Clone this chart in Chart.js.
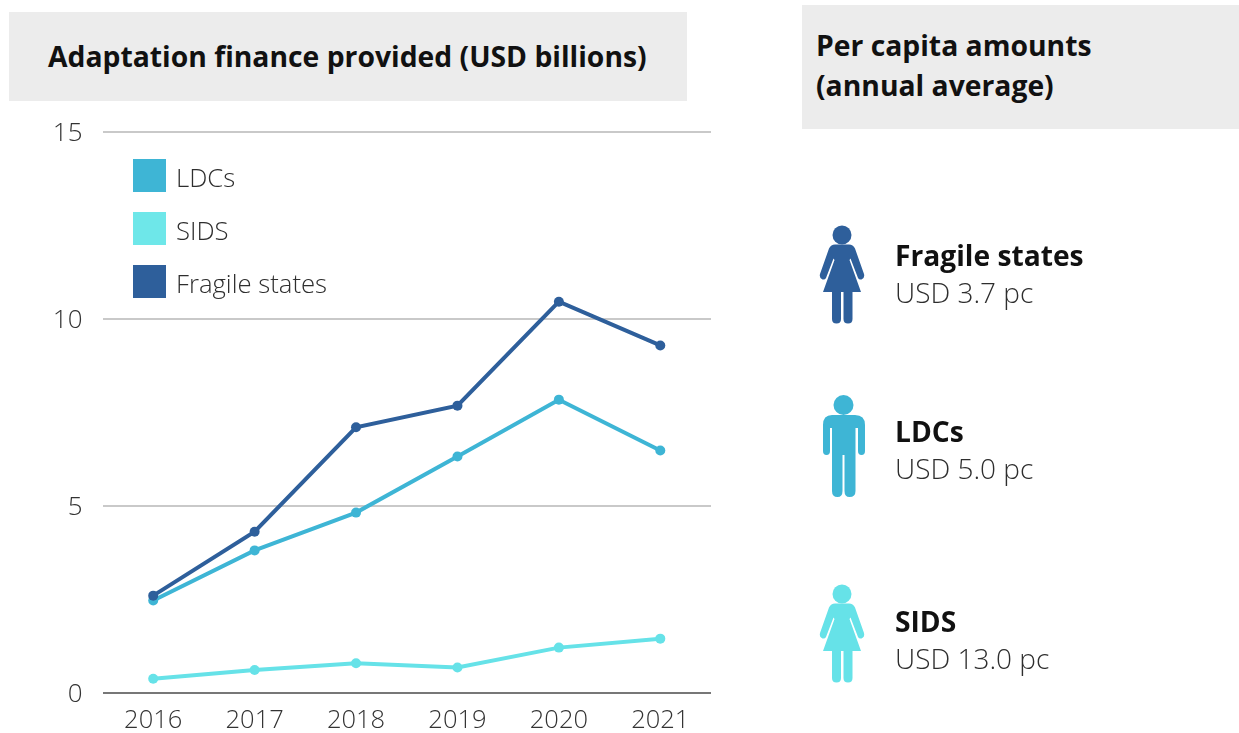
<!DOCTYPE html>
<html>
<head>
<meta charset="utf-8">
<title>Adaptation finance</title>
<script src="https://cdn.jsdelivr.net/npm/chart.js@4"></script>
<style>
    html, body { margin: 0; padding: 0; background: #fff; }
    body { position: relative; width: 1239px; height: 733px; overflow: hidden; font-family: "Open Sans", sans-serif; color: #2e2e2e; }
    .header { position: absolute; background: #ececec; color: #111; font-weight: 700; font-size: 28.3px; line-height: 40px; }
    #headerLeft { left: 9px; top: 12px; width: 639px; height: 89px; padding-left: 39px; line-height: 89px; white-space: nowrap; }
    #headerRight { left: 802px; top: 5px; width: 423px; height: 124px; padding-left: 14px; padding-top: 0; }
    #headerRight div { position: relative; top: 20px; }
    #chartCanvas { position: absolute; left: 0; top: 0; }
    .legendItem { position: absolute; left: 133px; height: 33px; line-height: 37px; font-size: 25.7px; font-weight: 300; padding-left: 43px; white-space: nowrap; }
    .legendItem span { position: absolute; left: 0; top: 0; width: 33px; height: 33px; }
    .groupName { position: absolute; left: 895px; font-size: 28.2px; font-weight: 700; color: #111; white-space: nowrap; line-height: 36px; }
    .groupAmount { position: absolute; left: 895px; font-size: 28px; font-weight: 300; white-space: nowrap; line-height: 36px; }
    #figures { position: absolute; left: 0; top: 0; }
</style>
</head>
<body>
<div class="header" id="headerLeft">Adaptation finance provided (USD billions)</div>
<div class="header" id="headerRight"><div>Per capita amounts</div><div>(annual average)</div></div>
<canvas id="chartCanvas" width="730" height="733"></canvas>
<div id="legend"></div>
<svg id="figures" width="1239" height="733">
    <defs>
        <g id="woman">
            <circle cx="842" cy="235" r="9.500"/>
            <path d="M835 244.500 H849 Q853 244.500 855 248.500 L864 274 Q865 278 861.500 279.500 Q859 280 858 278 L850.500 258.500 L849.500 260 L861 292 H852.500 V319 Q852.500 323.500 848 323.500 Q843.500 323.500 843.500 319 V292 H841 V319 Q841 323.500 836.500 323.500 Q832 323.500 832 319 V292 H823 L834.500 260 L833.500 258.500 L826 278 Q825 280 822.500 279.500 Q819 278 820 274 L829 248.500 Q831 244.500 835 244.500 Z"/>
        </g>
        <g id="man">
            <circle cx="843.500" cy="405" r="10"/>
            <path d="M832 415 H855 Q865 415 865 425 V451 Q865 455 861.500 455 Q858 455 858 451 V428 H855.500 V491 Q855.500 497 849.500 497 Q844.500 497 844.500 491 V455 H842.500 V491 Q842.500 497 837.500 497 Q832 497 832 491 V428 H830 V451 Q830 455 826.500 455 Q823 455 823 451 V425 Q823 415 832 415 Z"/>
        </g>
    </defs>
</svg>
<div id="groups"></div>

<script>
// Donnees du graphique
var years = ['2016', '2017', '2018', '2019', '2020', '2021'];
var ldcs = [2.46, 3.8, 4.81, 6.31, 7.83, 6.47];
var sids = [0.37, 0.6, 0.78, 0.67, 1.2, 1.44];
var fragile = [2.59, 4.3, 7.09, 7.67, 10.45, 9.28];
var seriesNames = ['LDCs', 'SIDS', 'Fragile states'];

// Montants par habitant
var groupNames = ['Fragile states', 'LDCs', 'SIDS'];
var groupAmounts = ['USD 3.7 pc', 'USD 5.0 pc', 'USD 13.0 pc'];

var colorLdcs = '#3eb5d5';
var colorSids = '#66e2e8';
var colorFragile = '#2e5f9b';
var swatchColors = [colorLdcs, '#6ee7e9', colorFragile];

function dataset(label, values, color, order) {
    return {
        label: label,
        data: values,
        borderColor: color,
        backgroundColor: color,
        borderWidth: 4,
        pointRadius: 5,
        pointHoverRadius: 5,
        pointBorderWidth: 0,
        tension: 0,
        order: order
    };
}

var ctx = document.getElementById('chartCanvas').getContext('2d');
var chart = new Chart(ctx, {
    type: 'line',
    data: {
        labels: years,
        datasets: [
            dataset(seriesNames[0], ldcs, colorLdcs, 1),
            dataset(seriesNames[1], sids, colorSids, 2),
            dataset(seriesNames[2], fragile, colorFragile, 0)
        ]
    },
    options: {
        responsive: false,
        animation: false,
        layout: { padding: { top: 131.5, right: 19, bottom: 0, left: 0 } },
        plugins: {
            legend: { display: false },
            tooltip: { enabled: false }
        },
        scales: {
            x: {
                offset: true,
                grid: { display: false },
                border: { display: false },
                ticks: {
                    color: '#333',
                    padding: 5,
                    maxRotation: 0,
                    font: { family: '"Open Sans"', size: 25.500, weight: '300' }
                },
                afterFit: function(scale) { scale.height = 40.5; }
            },
            y: {
                min: 0,
                max: 15,
                border: { display: false },
                grid: {
                    drawTicks: false,
                    lineWidth: 2,
                    color: function(c) { return c.tick.value === 0 ? '#777777' : '#c9c9c9'; }
                },
                ticks: {
                    stepSize: 5,
                    color: '#333',
                    padding: 20,
                    labelOffset: 2,
                    font: { family: '"Open Sans"', size: 26, weight: '300' }
                },
                afterFit: function(scale) { scale.width = 102.5; }
            }
        }
    }
});

// Legende a gauche
var legendTops = [159, 212, 265];
var legendHtml = '';
seriesNames.forEach(function(name, i) {
    legendHtml += '<div class="legendItem" style="top:' + legendTops[i] + 'px"><span style="background:' + swatchColors[i] + '"></span>' + name + '</div>';
});
document.getElementById('legend').innerHTML = legendHtml;

// Silhouettes
var figures = document.getElementById('figures');
var figureUses = [
    { href: '#woman', color: colorFragile, dy: 0 },
    { href: '#man', color: colorLdcs, dy: 0 },
    { href: '#woman', color: colorSids, dy: 359 }
];
figureUses.forEach(function(f) {
    var use = document.createElementNS('http://www.w3.org/2000/svg', 'use');
    use.setAttribute('href', f.href);
    use.setAttribute('fill', f.color);
    use.setAttribute('transform', 'translate(0,' + f.dy + ')');
    figures.appendChild(use);
});

// Textes a droite
var nameCenters = [255, 431, 621];
var amountCenters = [292, 468, 658];
var groupsHtml = '';
groupNames.forEach(function(name, i) {
    groupsHtml += '<div class="groupName" style="top:' + (nameCenters[i] - 18) + 'px">' + name + '</div>';
    groupsHtml += '<div class="groupAmount" style="top:' + (amountCenters[i] - 18) + 'px">' + groupAmounts[i] + '</div>';
});
document.getElementById('groups').innerHTML = groupsHtml;
</script>
</body>
</html>
